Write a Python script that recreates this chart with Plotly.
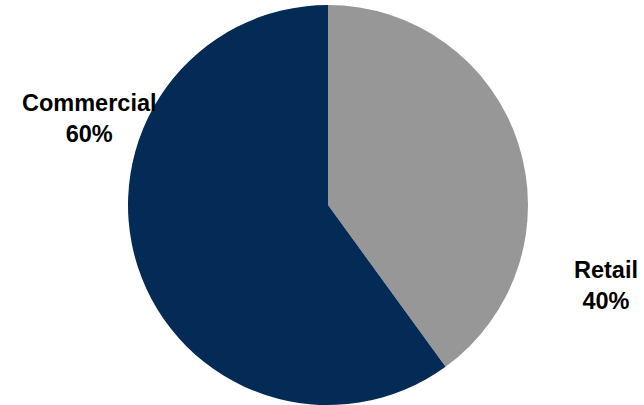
import plotly.graph_objects as go

labels = ["Retail", "Commercial"]
values = [40, 60]
colors = ["#979797", "#032b55"]
label_pos = {"Retail": (606, 285), "Commercial": (90, 118)}

W, H = 644, 405
total = sum(values)

fig = go.Figure()
fig.add_trace(go.Pie(
    labels=labels,
    values=values,
    sort=False,
    direction="clockwise",
    rotation=0,
    marker=dict(colors=colors, line=dict(width=0)),
    textinfo="none",
    hoverinfo="label+percent",
    showlegend=False,
    domain=dict(x=[128 / W, 528 / W], y=[0, 400 / H]),
))

annotations = []
for lab, val in zip(labels, values):
    px, py = label_pos[lab]
    pct = round(100 * val / total)
    annotations.append(dict(
        text=f"<b>{lab}<br>{pct}%</b>",
        x=px / W, y=1 - py / H, xref="paper", yref="paper",
        xanchor="center", yanchor="middle", showarrow=False,
        font=dict(family="Liberation Sans, Arial, sans-serif", size=23.5, color="#000000"),
        align="center",
    ))

fig.update_layout(
    width=W, height=H,
    margin=dict(l=0, r=0, t=0, b=0),
    paper_bgcolor="#ffffff",
    plot_bgcolor="#ffffff",
    annotations=annotations,
)

fig.write_html("out.html")
